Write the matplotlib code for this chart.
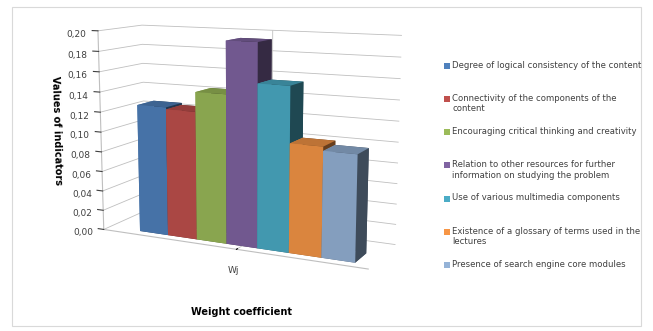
import matplotlib.pyplot as plt
import numpy as np
from matplotlib.patches import Patch, Rectangle
from matplotlib.legend_handler import HandlerPatch
from matplotlib.ticker import FuncFormatter

# Weight coefficients of the lecture quality indicators
indicators = [
    'Degree of logical consistency of the content\n ',
    'Connectivity of the components of the\ncontent',
    'Encouraging critical thinking and creativity\n ',
    'Relation to other resources for further\ninformation on studying the problem',
    'Use of various multimedia components\n ',
    'Existence of a glossary of terms used in the\nlectures',
    'Presence of search engine core modules\n ',
]
values = [0.128, 0.126, 0.145, 0.195, 0.157, 0.104, 0.100]
category = 'Wj'
colors = ['#4F81BD', '#C0504D', '#9BBB59', '#8064A2', '#4BACC6', '#F79646', '#95B3D7']

fig = plt.figure(figsize=(6.53, 3.31), dpi=100)
fig.patches.append(Rectangle((0.018, 0.015), 0.964, 0.965, transform=fig.transFigure,
                             fill=False, edgecolor='#d9d9d9', linewidth=0.8))

ax = fig.add_axes([0.014, 0.034, 0.71, 1.075], projection='3d', proj_type='persp',
                  focal_length=0.5)
ax.patch.set_alpha(0)

x = np.arange(len(values))
for xi, v, c in zip(x, values, colors):
    ax.bar3d(xi, 0, 0, 1, 0.8, v, color=c, shade=True, edgecolor='none')

ax.set_xlim(-1.1, len(values) + 0.5)
ax.set_ylim(-0.3, 1.8)
ax.set_zlim(0, 0.20)
ax.set_box_aspect((3.5, 1.0, 2.5))
ax.view_init(elev=11, azim=-64)

ax.zaxis._axinfo['juggled'] = (1, 2, 0)

ax.set_xticks([len(values) / 2])
ax.set_xticklabels([category], fontsize=6.5, color='#404040')
ax.set_yticks([])
ax.set_zticks(np.arange(0, 0.201, 0.02))
ax.zaxis.set_major_formatter(FuncFormatter(lambda v, p: f'{v:.2f}'.replace('.', ',')))
ax.tick_params(axis='z', labelsize=6.5, colors='#404040', pad=2)
ax.tick_params(axis='x', pad=2)

for axis in (ax.xaxis, ax.yaxis, ax.zaxis):
    axis.set_pane_color((1, 1, 1, 0))
    axis._axinfo['grid']['color'] = '#bfbfbf'
    axis._axinfo['grid']['linewidth'] = 0.6
    axis._axinfo['tick']['inward_factor'] = 0.0
    axis._axinfo['tick']['outward_factor'] = 0.3
    axis.line.set_color('#bfbfbf')
ax.yaxis.line.set_color((1, 1, 1, 0))

ax.set_zlabel('Values of indicators', fontsize=7, fontweight='bold', labelpad=0)
fig.text(0.37, 0.057, 'Weight coefficient', fontsize=7, fontweight='bold',
         ha='center', va='center')


def top_square(legend, orig_handle, xdescent, ydescent, width, height, fontsize):
    # keep the square level with the first line of a two-line label
    return Rectangle((-xdescent, -ydescent + 0.6 * fontsize), width, height)


handles = [Patch(facecolor=c) for c in colors]
fig.legend(handles, indicators, loc='upper left', bbox_to_anchor=(0.668, 0.84),
           frameon=False, fontsize=6.1, handlelength=0.7, handleheight=0.7,
           handletextpad=0.3, labelspacing=1.63, labelcolor='#404040',
           handler_map={Patch: HandlerPatch(patch_func=top_square)})

plt.savefig('out.png', dpi=100)
